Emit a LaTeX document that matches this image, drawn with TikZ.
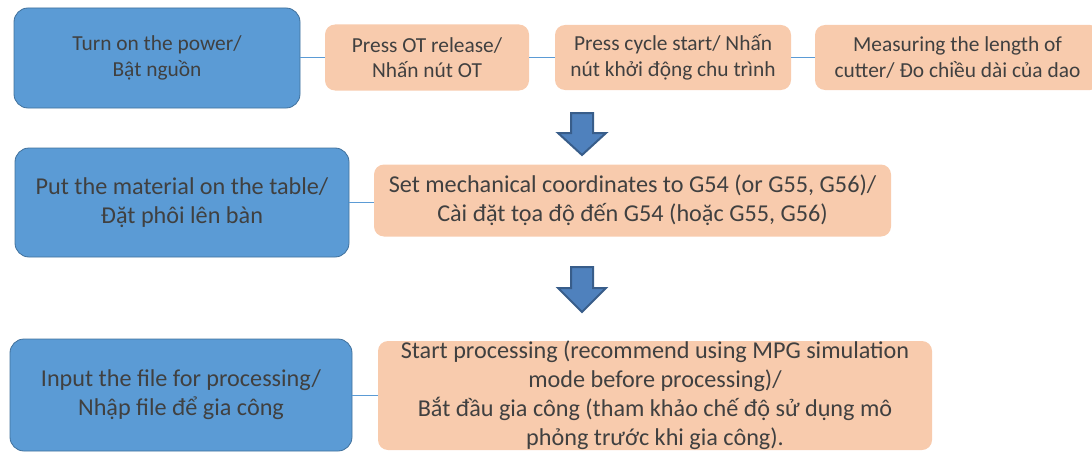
\documentclass[tikz,border=0pt]{standalone}
\usepackage{fontspec}
\setmainfont{Carlito}
\definecolor{boxblue}{HTML}{5B9BD5}
\definecolor{boxedge}{HTML}{41719C}
\definecolor{boxorange}{HTML}{F8CBAD}
\definecolor{txt}{HTML}{404040}
\definecolor{arrowfill}{HTML}{4F81BD}
\definecolor{arrowedge}{HTML}{385D8A}
\begin{document}
\begin{tikzpicture}[x=1pt,y=-1pt,
  boxbase/.style={align=center,text=txt,inner sep=0pt},
  bluebox/.style={boxbase,draw=boxedge,fill=boxblue,line width=0.8pt,rounded corners=14pt},
  orangebox/.style={boxbase,fill=boxorange,rounded corners=10pt},
  rowone/.style={font=\fontsize{21.4}{25.5}\selectfont},
  rowtwo/.style={font=\fontsize{24.2}{29}\selectfont},
  conn/.style={draw=boxblue,line width=1pt},
  blockarrow/.style={fill=arrowfill,draw=arrowedge,line width=2pt,line join=miter}]
\useasboundingbox (0,0) rectangle (1092,452);
\begin{scope}
\clip (0,0) rectangle (1092,452);
% row 1
\node[bluebox,rowone,minimum width=286pt,minimum height=100pt] (A1) at (157,58) {Turn on the power/\\Bật nguồn};
\node[orangebox,rowone,minimum width=204pt,minimum height=66pt] (A2) at (427,57.5) {Press OT release/\\Nhấn nút OT};
\node[orangebox,rowone,minimum width=236pt,minimum height=65pt] (A3) at (673,57.5) {Press cycle start/ Nhấn\\nút khởi động chu trình};
\node[orangebox,rowone,minimum width=285pt,minimum height=65pt] (A4) at (957.5,57.5) {Measuring the length of\\cutter/ Đo chiều dài của dao};
\draw[conn] (A1.east) -- (A1.east -| A2.west);
\draw[conn] (A2.east) -- (A2.east -| A3.west);
\draw[conn] (A3.east) -- (A3.east -| A4.west);
% row 2
\node[bluebox,rowtwo,minimum width=334pt,minimum height=109pt] (B1) at (182,202.5) {Put the material on the table/\\Đặt phôi lên bàn};
\node[orangebox,rowtwo,minimum width=517pt,minimum height=72pt] (B2) at (632.5,200.5) {Set mechanical coordinates to G54 (or G55, G56)/\\Cài đặt tọa độ đến G54 (hoặc G55, G56)};
\draw[conn] (B1.east) -- (B1.east -| B2.west);
% row 3
\node[bluebox,rowtwo,minimum width=342pt,minimum height=112pt] (C1) at (181,395) {Input the file for processing/\\Nhập file để gia công};
\node[orangebox,rowtwo,minimum width=554pt,minimum height=109pt] (C2) at (655,395.5) {Start processing (recommend using MPG simulation\\mode before processing)/\\Bắt đầu gia công (tham khảo chế độ sử dụng mô\\phỏng trước khi gia công).};
\draw[conn] (C1.east) -- (C1.east -| C2.west);
% block arrows
\draw[blockarrow] (571,113) -- (593,113) -- (593,133) -- (606,133) -- (582,155) -- (558,133) -- (571,133) -- cycle;
\draw[blockarrow] (571,267) -- (593,267) -- (593,288) -- (606,288) -- (582,312) -- (558,288) -- (571,288) -- cycle;
\end{scope}
\end{tikzpicture}
\end{document}
